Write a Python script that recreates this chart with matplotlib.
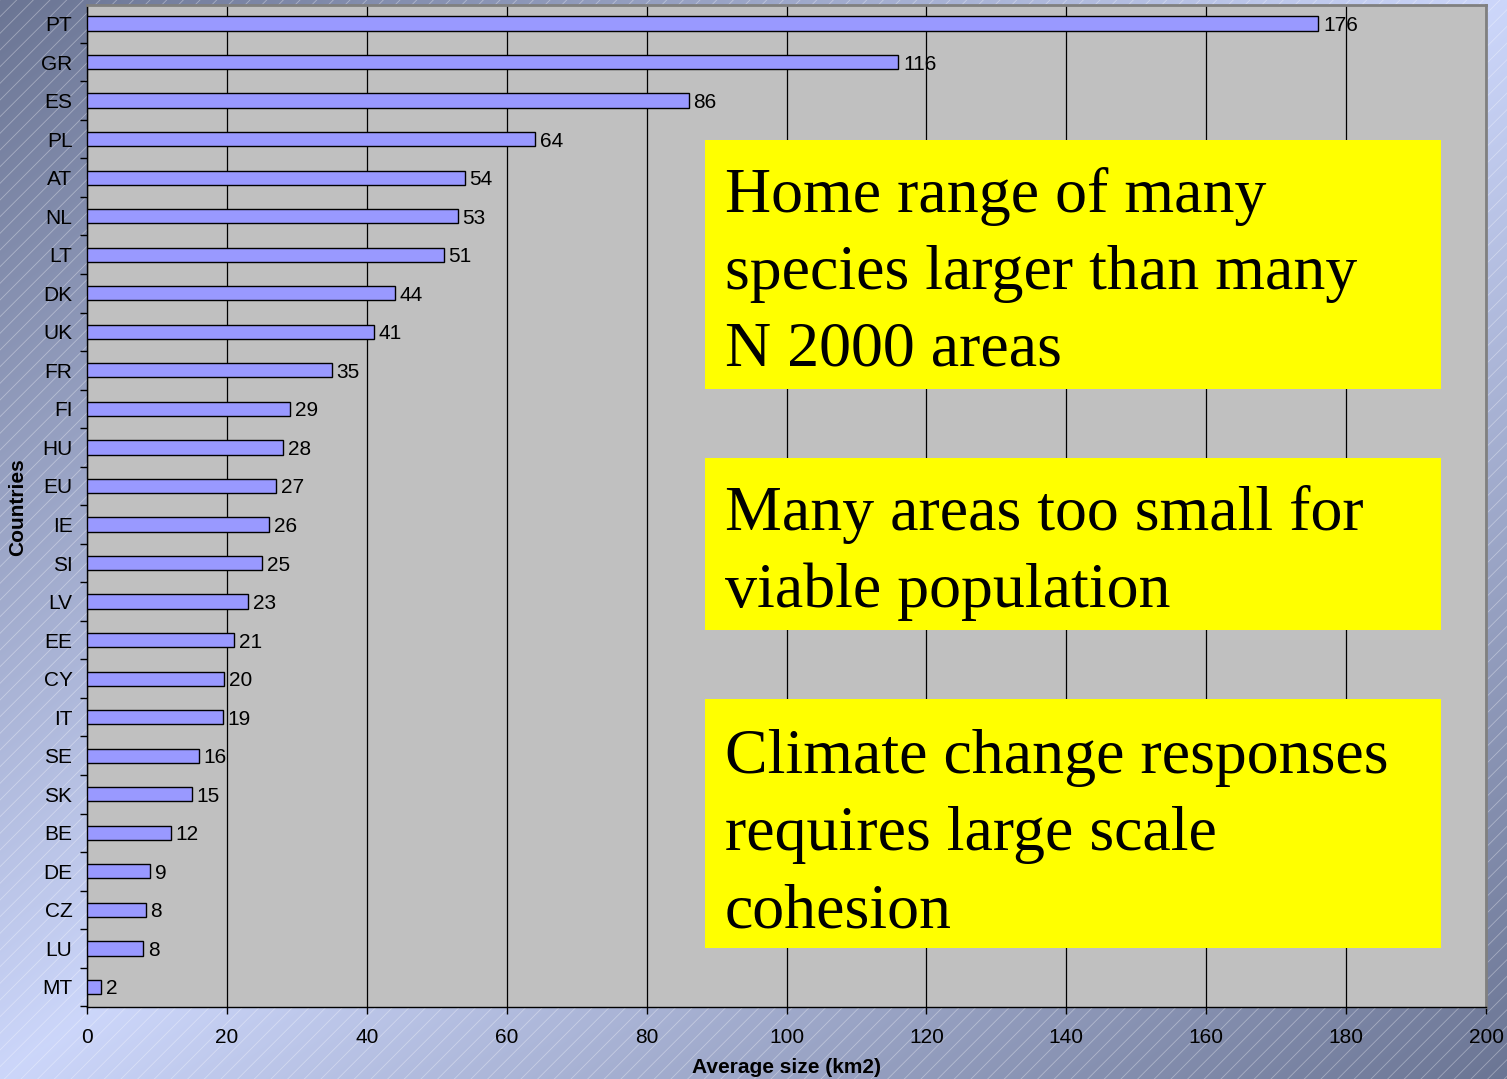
import numpy as np
import matplotlib
matplotlib.use("Agg")
import matplotlib.pyplot as plt
from matplotlib.patches import Rectangle
from matplotlib.ticker import FixedLocator, NullFormatter

# Average Natura 2000 site size per country (km2)
countries = ["PT", "GR", "ES", "PL", "AT", "NL", "LT", "DK", "UK", "FR", "FI", "HU", "EU",
             "IE", "SI", "LV", "EE", "CY", "IT", "SE", "SK", "BE", "DE", "CZ", "LU", "MT"]
avg_size = [176, 116, 86, 64, 54, 53, 51, 44, 41, 35, 29, 28, 27,
            26, 25, 23, 21, 19.6, 19.4, 16, 15, 12, 9, 8.4, 8, 2]
x_ticks = [0, 20, 40, 60, 80, 100, 120, 140, 160, 180, 200]

messages = [
    ["Home range of many", "species larger than many", "N 2000 areas"],
    ["Many areas too small for", "viable population"],
    ["Climate change responses", "requires large scale", "cohesion"],
]

W, H = 1507, 1079
FS = 15
plt.rcParams["font.family"] = ["Liberation Sans", "DejaVu Sans"]
plt.rcParams["hatch.linewidth"] = 0.6

fig = plt.figure(figsize=(W / 100, H / 100), dpi=100)

# --- slide-style background: diagonal blue gradient with fine hatching
bg = fig.add_axes([0, 0, 1, 1], zorder=-10)
bg.set_axis_off()
gx, gy = np.meshgrid(np.linspace(0, 1, 400), np.linspace(0, 1, 300))
t = np.clip(np.abs(gx + gy - 1.0), 0, 1)
light = np.array([0.80, 0.84, 0.98])
dark = np.array([0.42, 0.46, 0.58])
img = light[None, None, :] * (1 - t[..., None]) + dark[None, None, :] * t[..., None]
bg.imshow(img, extent=[0, 1, 0, 1], origin="upper", aspect="auto", interpolation="bilinear")
bg.add_patch(Rectangle((0, 0), 1, 1, transform=bg.transAxes, facecolor="none",
                       edgecolor=(1, 1, 1, 0.35), linewidth=0, hatch="//"))
bg.set_xlim(0, 1)
bg.set_ylim(0, 1)

# --- bar chart
left, right = 87 / W, 1486 / W
top, bottom = 1 - 5 / H, 1 - 1007 / H
ax = fig.add_axes([left, bottom, right - left, top - bottom])
ax.set_facecolor("#c0c0c0")

ypos = np.arange(len(countries))
ax.barh(ypos, avg_size, height=0.37, color="#9999ff", edgecolor="black",
        linewidth=1.0, zorder=3)
for y, v in zip(ypos, avg_size):
    ax.annotate(f"{v:.0f}", xy=(v, y), xytext=(3.5, 0), textcoords="offset points",
                ha="left", va="center_baseline", fontsize=FS, color="black", zorder=4)

ax.set_xlim(0, 200)
ax.set_ylim(len(countries) - 0.48, -0.48)
ax.set_xticks(x_ticks)
ax.set_xticklabels([str(v) for v in x_ticks])
ax.xaxis.grid(True, color="black", linewidth=0.9, zorder=1)
ax.set_axisbelow(True)

ax.set_yticks(ypos)
ax.set_yticklabels(countries)
ax.yaxis.set_minor_locator(FixedLocator(np.arange(len(countries) + 1) - 0.5))
ax.yaxis.set_minor_formatter(NullFormatter())
ax.tick_params(axis="y", which="major", length=0, pad=10.5, labelsize=FS)
ax.tick_params(axis="y", which="minor", length=5, width=1.0, direction="out")
ax.tick_params(axis="x", which="major", length=5, width=1.0, direction="out",
               pad=10, labelsize=FS)

for s in ("left", "bottom"):
    ax.spines[s].set_color("black")
    ax.spines[s].set_linewidth(1.0)
for s in ("top", "right"):
    ax.spines[s].set_color("#808080")
    ax.spines[s].set_linewidth(2.0)

fig.text(18 / W, 1 - 507 / H, "Countries", rotation=90, ha="center", va="center",
         fontsize=FS, fontweight="bold")
fig.text(787 / W, 1 - 1077 / H, "Average size (km2)", ha="center", va="bottom",
         fontsize=FS, fontweight="bold")

# --- yellow message boxes
boxes = [(140, 389), (458, 630), (699, 948)]
baselines = [[212, 289, 366], [530, 607], [773, 850, 927]]
for (btop, bbot), lines, bls in zip(boxes, messages, baselines):
    fig.patches.append(Rectangle((705 / W, 1 - bbot / H), (1441 - 705) / W, (bbot - btop) / H,
                                 transform=fig.transFigure, facecolor="#ffff00",
                                 edgecolor="none", zorder=5))
    for line, bl in zip(lines, bls):
        fig.text(725 / W, 1 - bl / H, line, ha="left", va="baseline",
                 fontsize=46, family=["Liberation Serif", "DejaVu Serif"],
                 color="black", zorder=6)

fig.savefig("out.png", dpi=100)
